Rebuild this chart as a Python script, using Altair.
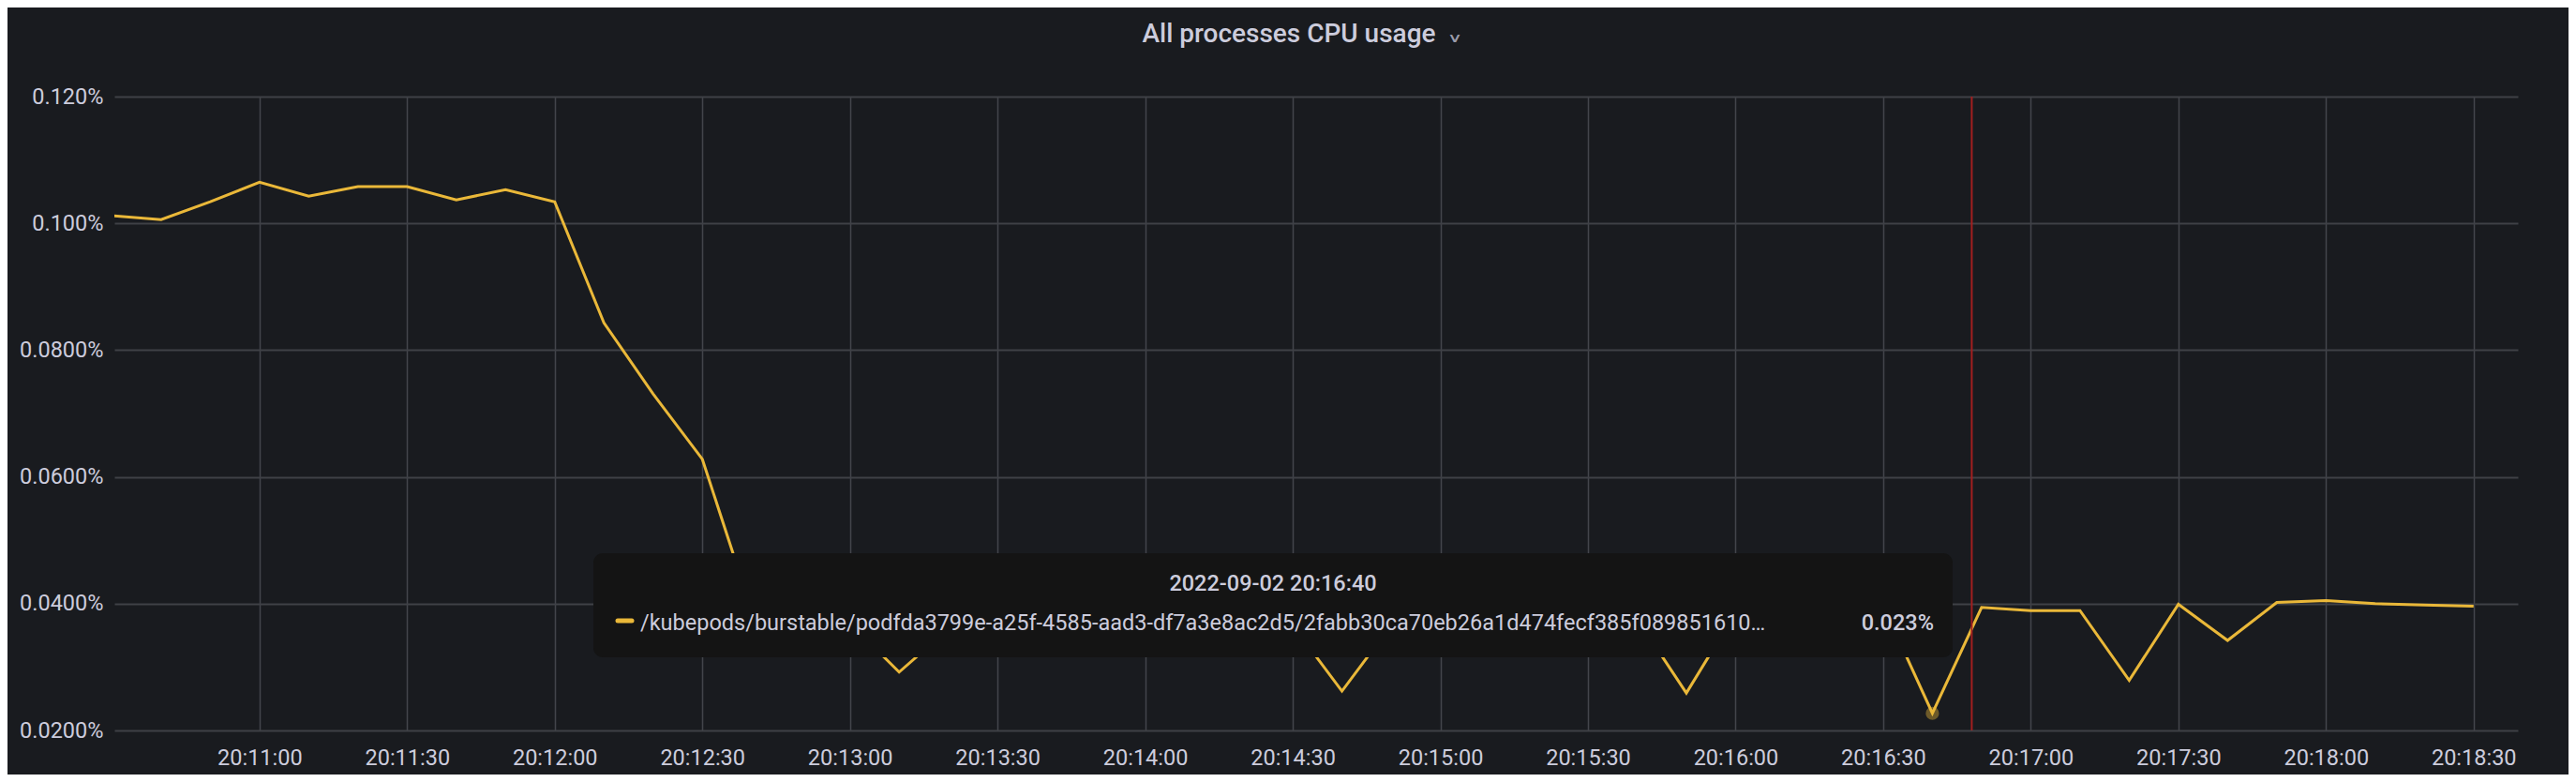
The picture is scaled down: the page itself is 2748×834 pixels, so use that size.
import altair as alt
import pandas as pd

# ---------------- data ----------------
date = "2022-09-02"
times = [
    "20:10:30", "20:10:40", "20:10:50", "20:11:00", "20:11:10", "20:11:20", "20:11:30",
    "20:11:40", "20:11:50", "20:12:00", "20:12:10", "20:12:20", "20:12:30", "20:12:40",
    "20:12:50", "20:13:00", "20:13:10", "20:13:20", "20:13:30", "20:13:40", "20:13:50",
    "20:14:00", "20:14:10", "20:14:20", "20:14:30", "20:14:40", "20:14:50", "20:15:00",
    "20:15:10", "20:15:20", "20:15:30", "20:15:40", "20:15:50", "20:16:00", "20:16:10",
    "20:16:20", "20:16:30", "20:16:40", "20:16:50", "20:17:00", "20:17:10", "20:17:20",
    "20:17:30", "20:17:40", "20:17:50", "20:18:00", "20:18:10", "20:18:20", "20:18:30",
]
cpu_pct = [
    0.1012, 0.1006, 0.1034, 0.1065, 0.1043, 0.1058, 0.1058,
    0.1037, 0.1053, 0.1034, 0.0843, 0.0731, 0.0628, 0.0390,
    0.0380, 0.0369, 0.0292, 0.0360, 0.0380, 0.0388, 0.0382,
    0.0390, 0.0386, 0.0381, 0.0366, 0.0262, 0.0366, 0.0383,
    0.0390, 0.0386, 0.0381, 0.0376, 0.0259, 0.0386, 0.0391,
    0.0388, 0.0397, 0.0227, 0.0394, 0.0389, 0.0389, 0.0279,
    0.0399, 0.0342, 0.0402, 0.0405, 0.0400, 0.0398, 0.0396,
]
x_tick_times = [
    "20:11:00", "20:11:30", "20:12:00", "20:12:30", "20:13:00", "20:13:30", "20:14:00",
    "20:14:30", "20:15:00", "20:15:30", "20:16:00", "20:16:30", "20:17:00", "20:17:30",
    "20:18:00", "20:18:30",
]
x_range = ["20:10:30.5", "20:18:39"]
y_ticks = [0.02, 0.04, 0.06, 0.08, 0.10, 0.12]
hover_time = "20:16:40"
cursor_time = "20:16:48"
series_name = ("/kubepods/burstable/podfda3799e-a25f-4585-aad3-df7a3e8ac2d5/"
               "2fabb30ca70eb26a1d474fecf385f089851610\u2026")
title_text = "All processes CPU usage"


def ms(t):
    """UTC epoch milliseconds of a time of day on `date`."""
    return int(pd.Timestamp(f"{date} {t}", tz="UTC").value // 1_000_000)


# ---------------- styling ----------------
BG = "#191b1f"
TXT = "#ccccdc"
LINE = "#EAB839"
FONT = "Roboto"
W, H = 2564, 676

df = pd.DataFrame({"t": [ms(t) for t in times], "cpu": cpu_pct})
hover_idx = times.index(hover_time)
df_hover = df.iloc[[hover_idx]].reset_index(drop=True)
df_cursor = pd.DataFrame({"t": [ms(cursor_time)]})
df_tip = pd.DataFrame({
    "title": [title_text],
    "chev": ["\u02c5"],
    "header": [f"{date} {hover_time}"],
    "name": [series_name],
    "value": [f"{cpu_pct[hover_idx]:.3f}%"],
})

x_scale = alt.Scale(type="utc", domain=[ms(x_range[0]), ms(x_range[1])])
y_scale = alt.Scale(domain=[0.02, 0.12], zero=False, nice=False)

x_axis = alt.Axis(
    values=[ms(t) for t in x_tick_times],
    labelExpr="utcFormat(datum.value, '%H:%M:%S')",
    grid=True, gridColor="#43454b", gridWidth=1.5,
    ticks=False, tickSize=0, domain=False, title=None,
    labelFont=FONT, labelFontSize=23.5, labelColor=TXT, labelPadding=17,
    labelFlush=False, labelOverlap=False,
)
y_axis = alt.Axis(
    values=y_ticks, labelExpr="format(datum.value, '.3r') + '%'",
    grid=True, gridColor="#3f4146", gridWidth=2,
    ticks=False, tickSize=0, domain=False, title=None,
    labelFont=FONT, labelFontSize=23.5, labelColor=TXT, labelPadding=12,
)

line = alt.Chart(df).mark_line(color=LINE, strokeWidth=3, clip=True).encode(
    x=alt.X("t:T", scale=x_scale, axis=x_axis),
    y=alt.Y("cpu:Q", scale=y_scale, axis=y_axis),
)

hover_pt = alt.Chart(df_hover).mark_circle(size=200, color=LINE, opacity=0.4).encode(
    x=alt.X("t:T"),
    y=alt.Y("cpu:Q"),
)

cursor = alt.Chart(df_cursor).mark_rule(color="#a31f1f", strokeWidth=2).encode(
    x=alt.X("t:T"),
)

# panel title (with Grafana's menu chevron)
title = alt.Chart(df_tip).mark_text(
    font=FONT, fontSize=28, fontWeight=500, color=TXT, align="center", baseline="alphabetic"
).encode(x=alt.value(1253), y=alt.value(-58), text="title:N")
chevron = alt.Chart(df_tip).mark_text(
    font="DejaVu Sans", fontSize=34, color="#9a9cab", align="center", baseline="middle"
).encode(x=alt.value(1430), y=alt.value(-49), text="chev:N")

# hover tooltip
tip_box = alt.Chart(df_tip).mark_rect(color="#141414", cornerRadius=10).encode(
    x=alt.value(511), x2=alt.value(1961), y=alt.value(487), y2=alt.value(598),
)
tip_dash = alt.Chart(df_tip).mark_rule(color=LINE, strokeWidth=5, strokeCap="round").encode(
    x=alt.value(537), x2=alt.value(552), y=alt.value(559), y2=alt.value(559),
)
tip_header = alt.Chart(df_tip).mark_text(
    font=FONT, fontSize=23.5, fontWeight=500, color=TXT, align="center", baseline="alphabetic"
).encode(x=alt.value(1236), y=alt.value(527), text="header:N")
tip_name = alt.Chart(df_tip).mark_text(
    font=FONT, fontSize=23.5, color=TXT, align="left", baseline="alphabetic"
).encode(x=alt.value(561), y=alt.value(569), text="name:N")
tip_value = alt.Chart(df_tip).mark_text(
    font=FONT, fontSize=23.5, fontWeight=500, color=TXT, align="right", baseline="alphabetic"
).encode(x=alt.value(1941), y=alt.value(569), text="value:N")

chart = alt.layer(
    line, hover_pt, cursor, title, chevron,
    tip_box, tip_dash, tip_header, tip_name, tip_value,
).properties(
    width=W, height=H,
    padding={"left": 114, "top": 95, "right": 54, "bottom": 47},
    autosize=alt.AutoSizeParams(type="none"),
).configure(background=BG).configure_view(stroke=None)

chart.save("out.html", embed_options={"renderer": "svg", "actions": False})
